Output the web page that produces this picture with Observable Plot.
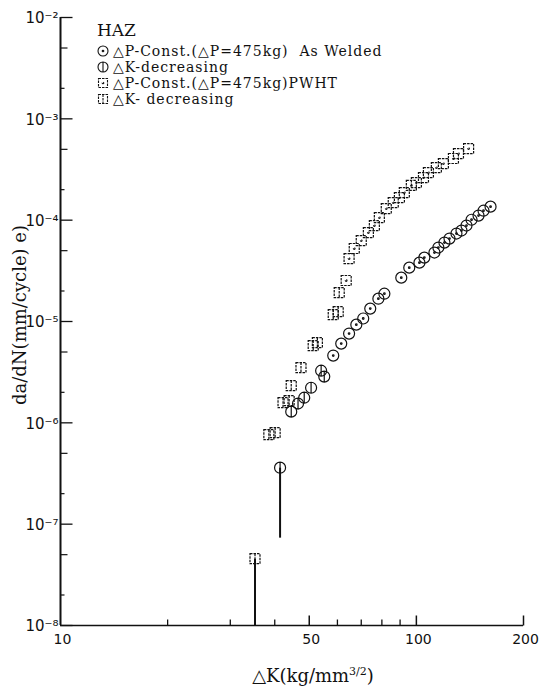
<!DOCTYPE html>
<html><head><meta charset="utf-8">
<script src="https://cdn.jsdelivr.net/npm/d3@7"></script>
<script src="https://cdn.jsdelivr.net/npm/@observablehq/plot@0.6"></script>
<style>body{margin:0;background:#fff}#chart{width:543px;height:691px}
.serif{font-family:"DejaVu Serif","Liberation Serif",serif !important}</style>
</head><body><div id="chart"></div>
<script>
// ---- data ----
const awConstK = [161.6,154.4,149.5,142.9,138.3,133.9,129.6,123.9,119.9,115.3,112.4,105.3,102.0,95.5,90.7,81.3,78.2,74.2,70.9,67.8,64.7,61.5,58.4];
const awConstV = [1.36e-4,1.24e-4,1.11e-4,1.01e-4,8.85e-5,7.9e-5,7.38e-5,6.58e-5,6.01e-5,5.37e-5,4.79e-5,4.27e-5,3.81e-5,3.40e-5,2.71e-5,1.88e-5,1.68e-5,1.34e-5,1.07e-5,9.31e-6,7.60e-6,6.05e-6,4.61e-6];
const awDecK = [54.0,55.1,50.6,48.4,46.5,44.5,41.4];
const awDecV = [3.27e-6,2.86e-6,2.22e-6,1.77e-6,1.55e-6,1.29e-6,3.61e-7];
const pwConstK = [140.2,131.3,127.1,119.1,113.8,108.1,104.7,100.0,96.8,92.5,89.6,86.1,82.3,78.7,76.2,73.3,70.0,66.9,64.7,63.5];
const pwConstV = [5.09e-4,4.54e-4,4.06e-4,3.62e-4,3.30e-4,2.95e-4,2.63e-4,2.35e-4,2.20e-4,1.87e-4,1.67e-4,1.49e-4,1.30e-4,1.06e-4,8.85e-5,7.55e-5,6.29e-5,5.25e-5,4.18e-5,2.54e-5];
const pwDecK = [60.7,58.4,60.3,51.3,52.7,47.4,44.5,42.2,43.9,38.5,40.1,35.2];
const pwDecV = [1.93e-5,1.17e-5,1.25e-5,5.78e-6,6.19e-6,3.51e-6,2.33e-6,1.58e-6,1.66e-6,7.64e-7,8.0e-7,4.56e-8];
// threshold arrows (ΔK, from, to)
const arrowK = [41.4, 35.2];
const arrowFrom = [3.61e-7, 4.56e-8];
const arrowTo = [7.36e-8, 1e-8];
// axes
const xDomain = [10, 200];
const yDomain = [1e-8, 1e-2];
const xLabelTicks = [10, 50, 100, 200];
const xMajorTicks = [50, 100, 200];
const xMinorTicks = [20, 30, 40, 60, 70, 80, 90];
const yMajorTicks = [1e-2, 1e-3, 1e-4, 1e-5, 1e-6, 1e-7, 1e-8];
const yMinor5 = [5e-3, 5e-4, 5e-5, 5e-6, 5e-7, 5e-8];
const yMinor2 = [2e-3, 2e-4, 2e-5, 2e-6, 2e-7, 2e-8];
const legendTitle = "HAZ";
const legendLabels = ["△P-Const.(△P=475kg)  As Welded", "△K-decreasing", "△P-Const.(△P=475kg)PWHT", "△K- decreasing"];
const yLabel = "da/dN(mm/cycle) e)";

// ---- symbols ----
const len = s => Math.sqrt(s / Math.PI);
const tickRight = {draw(c, s){const l = len(s); c.moveTo(0,0); c.lineTo(l,0);}};
const tickUp = {draw(c, s){const l = len(s); c.moveTo(0,0); c.lineTo(0,-l);}};
const circleDot = {draw(c, s){const r = len(s); c.moveTo(r,0); c.arc(0,0,r,0,2*Math.PI); c.moveTo(0.8,0); c.arc(0,0,0.8,0,2*Math.PI);}};
const circleBar = {draw(c, s){const r = len(s); c.moveTo(r,0); c.arc(0,0,r,0,2*Math.PI); c.moveTo(0,-r); c.lineTo(0,r);}};
const squareDot = {draw(c, s){const r = len(s); c.rect(-r,-r,2*r,2*r); c.moveTo(0.8,0); c.arc(0,0,0.8,0,2*Math.PI);}};
const squareBar = {draw(c, s){const r = len(s); c.rect(-r,-r,2*r,2*r); c.moveTo(0,-r); c.lineTo(0,r);}};

const toRows = (K, V) => K.map((k, i) => ({k, v: V[i]}));
const awConst = toRows(awConstK, awConstV);
const awDec = toRows(awDecK, awDecV);
const pwConst = toRows(pwConstK, pwConstV);
const pwDec = toRows(pwDecK, pwDecV);
const arrows = arrowK.map((k, i) => ({k, v1: arrowFrom[i], v2: arrowTo[i]}));

const sup = {"-":"⁻","0":"⁰","1":"¹","2":"²","3":"³","4":"⁴","5":"⁵","6":"⁶","7":"⁷","8":"⁸","9":"⁹"};
const fmtY = d => "10" + String(Math.round(Math.log10(d))).split("").map(ch => sup[ch]).join("");

const ink = "#111";
const markOpts = {x: "k", y: "v", fill: "none", stroke: ink, strokeWidth: 1.2};

const chart = Plot.plot({
  width: 543, height: 691,
  marginLeft: 60, marginRight: 20, marginTop: 17, marginBottom: 66,
  style: {fontFamily: "DejaVu Sans", fontSize: "14px", color: ink, background: "white"},
  x: {type: "log", domain: xDomain},
  y: {type: "log", domain: yDomain},
  marks: [
    Plot.ruleX([xDomain[0]], {stroke: ink, strokeWidth: 2}),
    Plot.ruleY([yDomain[0]], {stroke: ink, strokeWidth: 1.5}),
    Plot.axisY({ticks: yMajorTicks, tickSize: 0, tickPadding: 2, tickFormat: fmtY, fontSize: 15, dy: 1, label: null}),
    Plot.axisX({ticks: xLabelTicks, tickSize: 0, tickPadding: 9, tickFormat: d => String(d), fontSize: 14, dx: 2, label: null}),
    Plot.dot(yMajorTicks, {x: () => xDomain[0], y: d => d, symbol: tickRight, r: 12, fill: "none", stroke: ink, strokeWidth: 1.3}),
    Plot.dot(yMinor5, {x: () => xDomain[0], y: d => d, symbol: tickRight, r: 7, fill: "none", stroke: ink, strokeWidth: 1.2}),
    Plot.dot(yMinor2, {x: () => xDomain[0], y: d => d, symbol: tickRight, r: 4, fill: "none", stroke: ink, strokeWidth: 1.2}),
    Plot.dot(xMajorTicks, {x: d => d, y: () => yDomain[0], symbol: tickUp, r: 10, fill: "none", stroke: ink, strokeWidth: 1.5}),
    Plot.dot(xMinorTicks, {x: d => d, y: () => yDomain[0], symbol: tickUp, r: 6, fill: "none", stroke: ink, strokeWidth: 1.3}),
    Plot.link(arrows, {x1: "k", x2: "k", y1: "v1", y2: "v2", stroke: ink, strokeWidth: 2}),
    Plot.dot(awConst, {...markOpts, symbol: circleDot, r: 5.5}),
    Plot.dot(awDec, {...markOpts, symbol: circleBar, r: 5.5}),
    Plot.dot(pwConst, {...markOpts, symbol: squareDot, r: 5, strokeDasharray: "2.5,1"}),
    Plot.dot(pwDec, {...markOpts, symbol: squareBar, r: 5, strokeDasharray: "2.5,1"})
  ]
});
document.getElementById("chart").appendChild(chart);

// ---- labels and legend ----
const svg = d3.select(chart);
svg.append("text").attr("class", "serif")
  .attr("transform", "translate(21,315) rotate(-90)")
  .attr("text-anchor", "middle").attr("dominant-baseline", "middle")
  .attr("font-size", 18).attr("fill", ink)
  .text(yLabel);
const xl = svg.append("text").attr("class", "serif")
  .attr("x", 313).attr("y", 682).attr("text-anchor", "middle")
  .attr("font-size", 18).attr("fill", ink);
xl.append("tspan").text("△K(kg/mm");
xl.append("tspan").attr("font-size", 11).attr("dy", -7).text("3/2");
xl.append("tspan").attr("dy", 7).text(")");

const lg = svg.append("g").attr("fill", ink).attr("text-anchor", "start");
lg.append("text").attr("class", "serif").attr("x", 97).attr("y", 36).attr("font-size", 17).text(legendTitle);
const legendSyms = [[circleDot, 5], [circleBar, 5], [squareDot, 4.5], [squareBar, 4.5]];
const rowY = [51, 67, 83, 99];
legendLabels.forEach((lab, i) => {
  const [sym, r] = legendSyms[i];
  const p = d3.path(); sym.draw(p, r * r * Math.PI);
  lg.append("path").attr("d", p.toString()).attr("transform", `translate(103,${rowY[i]})`)
    .attr("fill", "none").attr("stroke", ink).attr("stroke-width", 1.1)
    .attr("stroke-dasharray", i >= 2 ? "2.5,1" : null);
  lg.append("text").attr("class", "serif").attr("x", 113).attr("y", rowY[i] + 5).attr("font-size", 14)
    .attr("letter-spacing", 1.0).text(lab);
});
</script>
</body></html>
